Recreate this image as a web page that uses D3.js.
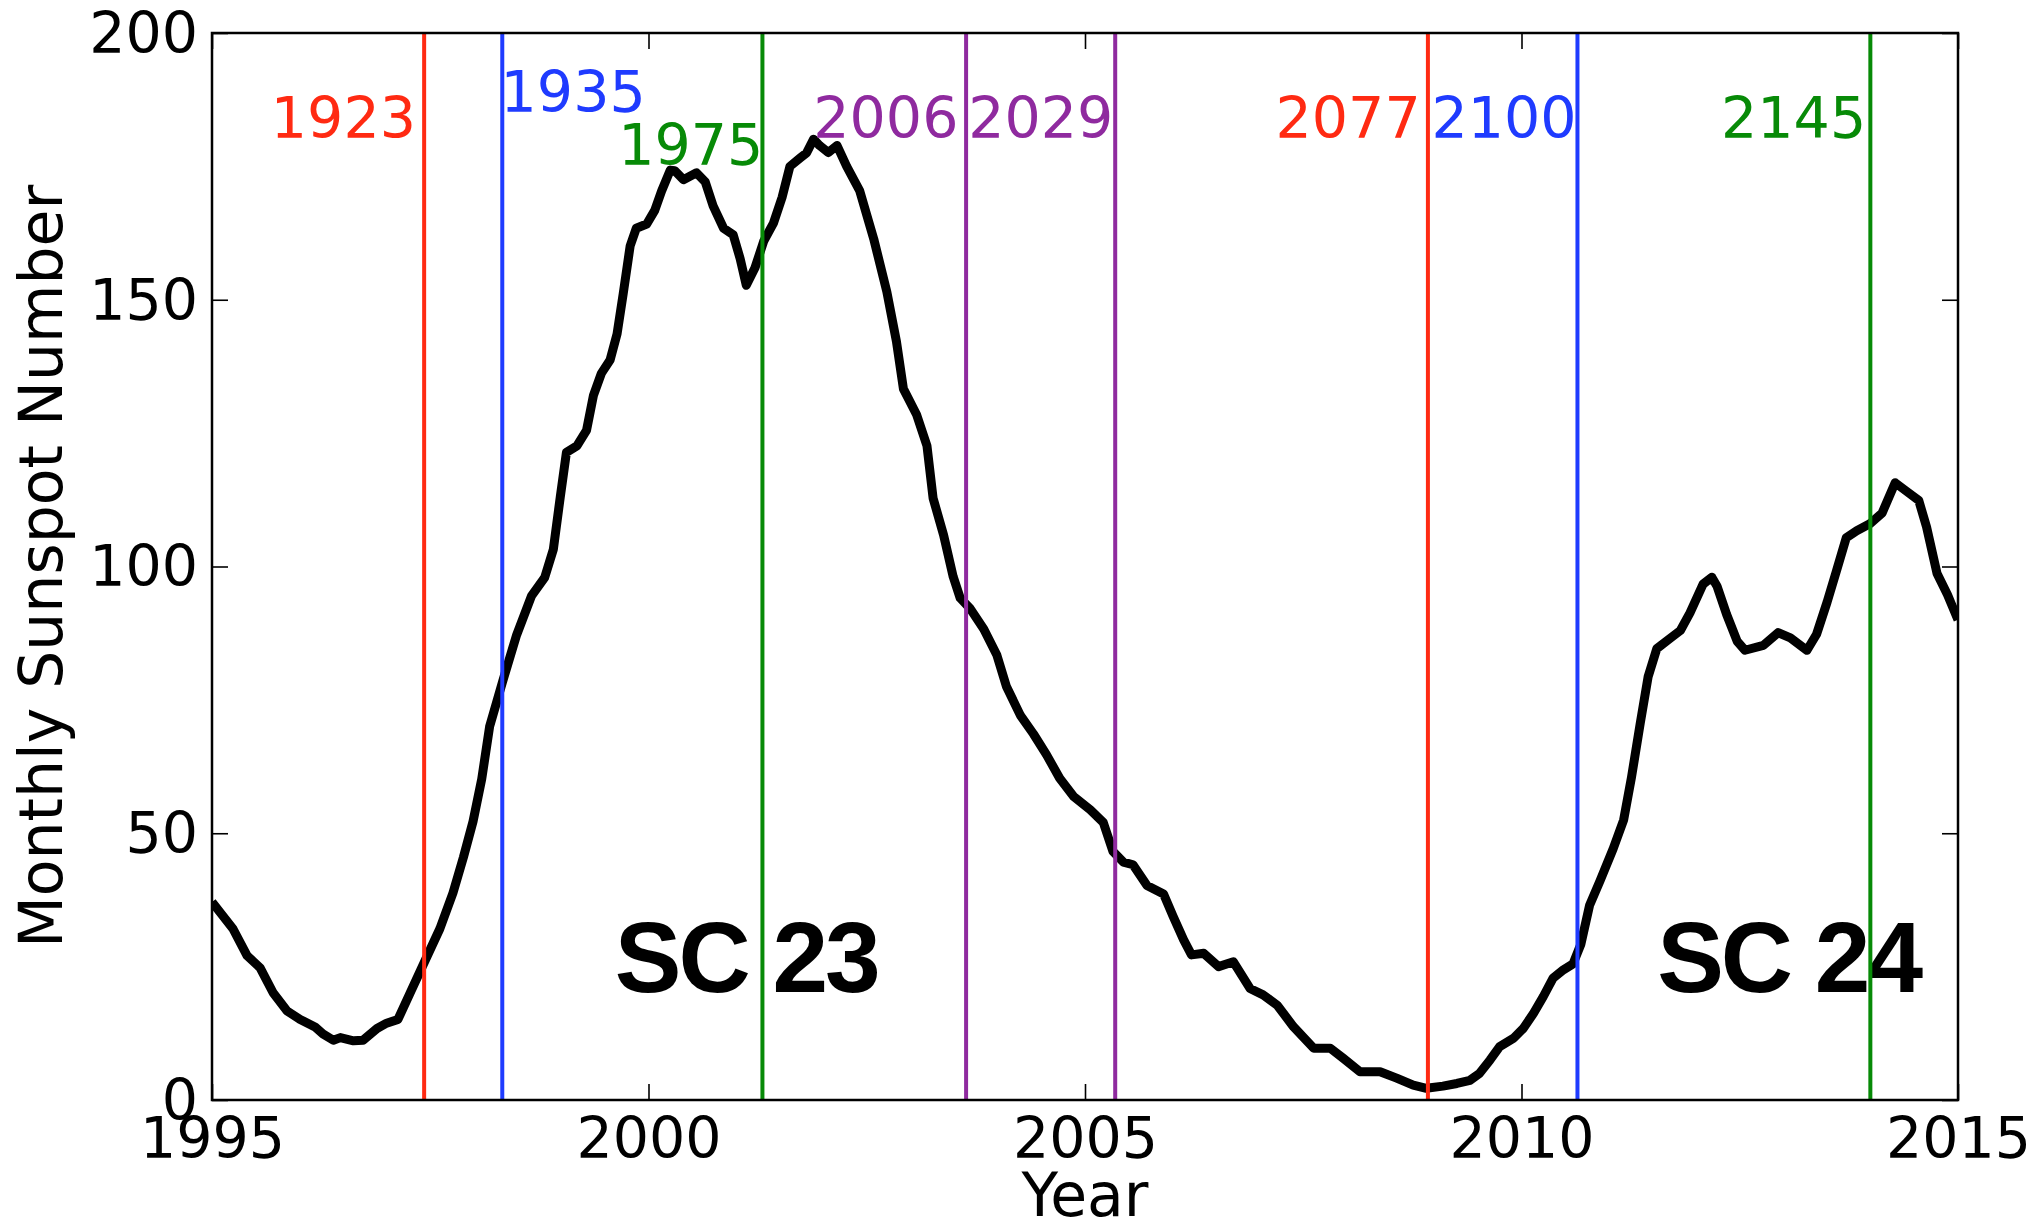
<!DOCTYPE html>
<html>
<head>
<meta charset="utf-8">
<script src="https://cdn.jsdelivr.net/npm/d3@7"></script>
<style>
  html, body { margin: 0; padding: 0; background: #fff; }
  svg { display: block; }
</style>
</head>
<body>
<svg id="chart" width="2044" height="1222"></svg>
<script>
// Monthly sunspot number, solar cycles 23 and 24
const years = [
  1995.00, 1995.24, 1995.40, 1995.55, 1995.70, 1995.86, 1996.01, 1996.18, 1996.27, 1996.39,
  1996.47, 1996.62, 1996.73, 1996.89, 1997.00, 1997.13, 1997.27, 1997.44, 1997.61, 1997.76,
  1997.88, 1997.99, 1998.09, 1998.18, 1998.33, 1998.49, 1998.66, 1998.81, 1998.91, 1998.99,
  1999.06, 1999.18, 1999.29, 1999.37, 1999.46, 1999.56, 1999.64, 1999.71, 1999.79, 1999.86,
  1999.98, 2000.07, 2000.15, 2000.25, 2000.30, 2000.40, 2000.55, 2000.65, 2000.74, 2000.86,
  2000.97, 2001.05, 2001.12, 2001.22, 2001.32, 2001.43, 2001.53, 2001.62, 2001.74, 2001.81,
  2001.89, 2001.96, 2002.06, 2002.16, 2002.27, 2002.42, 2002.58, 2002.73, 2002.84, 2002.92,
  2003.07, 2003.19, 2003.26, 2003.38, 2003.49, 2003.57, 2003.68, 2003.84, 2003.99, 2004.10,
  2004.26, 2004.41, 2004.56, 2004.71, 2004.87, 2005.06, 2005.21, 2005.32, 2005.44, 2005.55,
  2005.71, 2005.90, 2006.01, 2006.13, 2006.22, 2006.36, 2006.53, 2006.70, 2006.89, 2007.04,
  2007.20, 2007.39, 2007.62, 2007.81, 2007.96, 2008.15, 2008.38, 2008.57, 2008.76, 2008.91,
  2009.10, 2009.26, 2009.41, 2009.52, 2009.64, 2009.75, 2009.91, 2010.02, 2010.14, 2010.25,
  2010.36, 2010.48, 2010.59, 2010.68, 2010.78, 2010.90, 2011.05, 2011.17, 2011.26, 2011.36,
  2011.45, 2011.55, 2011.70, 2011.82, 2011.93, 2012.08, 2012.18, 2012.24, 2012.35, 2012.47,
  2012.56, 2012.77, 2012.94, 2013.08, 2013.27, 2013.38, 2013.50, 2013.61, 2013.72, 2013.84,
  2013.99, 2014.13, 2014.28, 2014.41, 2014.55, 2014.64, 2014.76, 2014.88, 2015.00
];
const sunspots = [
  37.1, 32.1, 27.1, 24.8, 20.1, 16.7, 15.1, 13.7, 12.4, 11.2,
  11.7, 11.1, 11.2, 13.4, 14.4, 15.1, 20.1, 26.1, 32.1, 38.8,
  45.5, 52.2, 60.2, 70.0, 78.5, 87.2, 94.5, 97.9, 103.2, 113.1,
  121.4, 122.6, 125.5, 132.1, 136.2, 138.7, 143.6, 151.1, 160.1, 163.4,
  164.2, 166.7, 170.4, 174.3, 174.2, 172.5, 173.8, 172.1, 167.6, 163.4,
  162.2, 157.7, 152.7, 156.0, 161.0, 164.3, 169.2, 175.0, 176.6, 177.5,
  180.1, 178.9, 177.6, 178.9, 175.0, 170.4, 161.4, 151.5, 142.2, 133.3,
  128.5, 122.6, 112.8, 105.9, 98.1, 94.1, 92.2, 88.3, 83.4, 77.5,
  72.1, 68.6, 64.7, 60.3, 56.9, 54.4, 52.0, 46.6, 44.6, 44.1,
  40.2, 38.6, 34.4, 30.0, 27.2, 27.5, 25.0, 25.9, 20.9, 19.7,
  17.8, 13.7, 9.7, 9.7, 7.8, 5.3, 5.3, 4.1, 2.8, 2.2,
  2.6, 3.1, 3.7, 5.0, 7.5, 10.0, 11.6, 13.4, 16.3, 19.4,
  22.8, 24.4, 25.5, 29.2, 36.5, 41.1, 47.1, 52.5, 60.5, 70.6,
  79.3, 84.6, 86.5, 88.0, 91.3, 96.7, 98.0, 96.3, 91.0, 86.0,
  84.3, 85.2, 87.6, 86.6, 84.3, 87.3, 93.3, 99.3, 105.4, 106.7,
  108.0, 110.0, 115.7, 114.1, 112.4, 107.4, 98.7, 94.7, 90.0
];

// Carrington rotations marked with vertical lines (start time in decimal years)
const rotations     = ["1923", "1935", "1975", "2006", "2029", "2077", "2100", "2145"];
const rotationYears = [1997.43, 1998.325, 2001.305, 2003.638, 2005.346, 2008.928, 2010.641, 2013.996];

// Rotation label anchors in data units (year, sunspot number) and their alignment
const labelYears   = [1997.336, 1998.306, 2001.314, 2003.550, 2005.325, 2008.845, 2010.630, 2013.948];
const labelLevels  = [180.3, 185.2, 175.3, 180.3, 180.3, 180.3, 180.3, 180.3];
const labelAnchors = ["end", "start", "end", "end", "end", "end", "end", "end"];

// Solar cycle annotations
const cycleNames  = ["SC 23", "SC 24"];
const cycleYears  = [2001.12, 2013.06];
const cycleLevels = [20.2, 20.2];

// Axis ticks
const xTicks = [1995, 2000, 2005, 2010, 2015];
const yTicks = [0, 50, 100, 150, 200];

// Styling
const rotationColors = ["#ff2a12", "#1f3bff", "#078a07", "#8f2a9f", "#8f2a9f", "#ff2a12", "#1f3bff", "#078a07"];
const FONT = "'DejaVu Sans', 'Bitstream Vera Sans', sans-serif";
const FS = 57;        // tick and marker labels
const FS_TITLE = 60;  // axis titles

const W = 2044, H = 1222;
const margin = { left: 212, top: 33, right: W - 1958, bottom: H - 1100 };
const iw = W - margin.left - margin.right;
const ih = H - margin.top - margin.bottom;

const x = d3.scaleLinear().domain([1995, 2015]).range([0, iw]);
const y = d3.scaleLinear().domain([0, 200]).range([ih, 0]);

const svg = d3.select("#chart");
const g = svg.append("g").attr("transform", `translate(${margin.left},${margin.top})`);

svg.append("defs").append("clipPath").attr("id", "plotclip")
  .append("rect").attr("x", 0).attr("y", 0).attr("width", iw).attr("height", ih);

const plot = g.append("g").attr("clip-path", "url(#plotclip)");

// Cycle labels
plot.selectAll("text.cycle")
  .data(cycleNames)
  .join("text")
  .attr("class", "cycle")
  .attr("x", (d, i) => x(cycleYears[i]))
  .attr("y", (d, i) => y(cycleLevels[i]))
  .attr("text-anchor", "middle")
  .attr("font-family", "'Liberation Sans', Arial, Helvetica, sans-serif")
  .attr("font-weight", "bold")
  .attr("font-size", 100)
  .attr("letter-spacing", -3)
  .attr("fill", "#000")
  .text(d => d);

// Sunspot curve
const series = years.map((yr, i) => [yr, sunspots[i]]);
plot.append("path")
  .datum(series)
  .attr("fill", "none")
  .attr("stroke", "#000")
  .attr("stroke-width", 9)
  .attr("stroke-linejoin", "round")
  .attr("stroke-linecap", "butt")
  .attr("d", d3.line().x(d => x(d[0])).y(d => y(d[1])));

// Carrington rotation markers
plot.selectAll("line.rot")
  .data(rotations)
  .join("line")
  .attr("class", "rot")
  .attr("x1", (d, i) => x(rotationYears[i]))
  .attr("x2", (d, i) => x(rotationYears[i]))
  .attr("y1", y(0))
  .attr("y2", y(200))
  .attr("stroke", (d, i) => rotationColors[i])
  .attr("stroke-width", 4);

plot.selectAll("text.rot")
  .data(rotations)
  .join("text")
  .attr("class", "rot")
  .attr("x", (d, i) => x(labelYears[i]))
  .attr("y", (d, i) => y(labelLevels[i]))
  .attr("text-anchor", (d, i) => labelAnchors[i])
  .attr("font-family", FONT)
  .attr("font-size", FS)
  .attr("fill", (d, i) => rotationColors[i])
  .text(d => d);

// Axes with inward ticks on all four sides
const tickLen = 16;
function styleAxis(sel) {
  sel.select(".domain").remove();
  sel.selectAll(".tick line").attr("stroke", "#000").attr("stroke-width", 1.6);
  sel.selectAll(".tick text").attr("font-family", FONT).attr("font-size", FS).attr("fill", "#000");
}

g.append("g")
  .attr("transform", `translate(0,${ih})`)
  .call(d3.axisBottom(x).tickValues(xTicks).tickFormat(d3.format("d"))
    .tickSizeInner(-tickLen).tickSizeOuter(0).tickPadding(18))
  .call(styleAxis);

g.append("g")
  .call(d3.axisTop(x).tickValues(xTicks).tickFormat("")
    .tickSizeInner(-tickLen).tickSizeOuter(0))
  .call(styleAxis);

g.append("g")
  .call(d3.axisLeft(y).tickValues(yTicks).tickFormat(d3.format("d"))
    .tickSizeInner(-tickLen).tickSizeOuter(0).tickPadding(14))
  .call(styleAxis)
  .call(s => s.selectAll(".tick text").attr("dy", "0.34em"));

g.append("g")
  .attr("transform", `translate(${iw},0)`)
  .call(d3.axisRight(y).tickValues(yTicks).tickFormat("")
    .tickSizeInner(-tickLen).tickSizeOuter(0))
  .call(styleAxis);

// Frame
g.append("rect")
  .attr("x", 0).attr("y", 0).attr("width", iw).attr("height", ih)
  .attr("fill", "none").attr("stroke", "#000").attr("stroke-width", 2.5);

// Axis titles
g.append("text")
  .attr("x", iw / 2)
  .attr("y", ih + 116)
  .attr("text-anchor", "middle")
  .attr("font-family", FONT)
  .attr("font-size", FS_TITLE)
  .attr("fill", "#000")
  .text("Year");

g.append("text")
  .attr("transform", `translate(${62 - margin.left},${ih / 2}) rotate(-90)`)
  .attr("text-anchor", "middle")
  .attr("font-family", FONT)
  .attr("font-size", FS_TITLE)
  .attr("fill", "#000")
  .text("Monthly Sunspot Number");
</script>
</body>
</html>
